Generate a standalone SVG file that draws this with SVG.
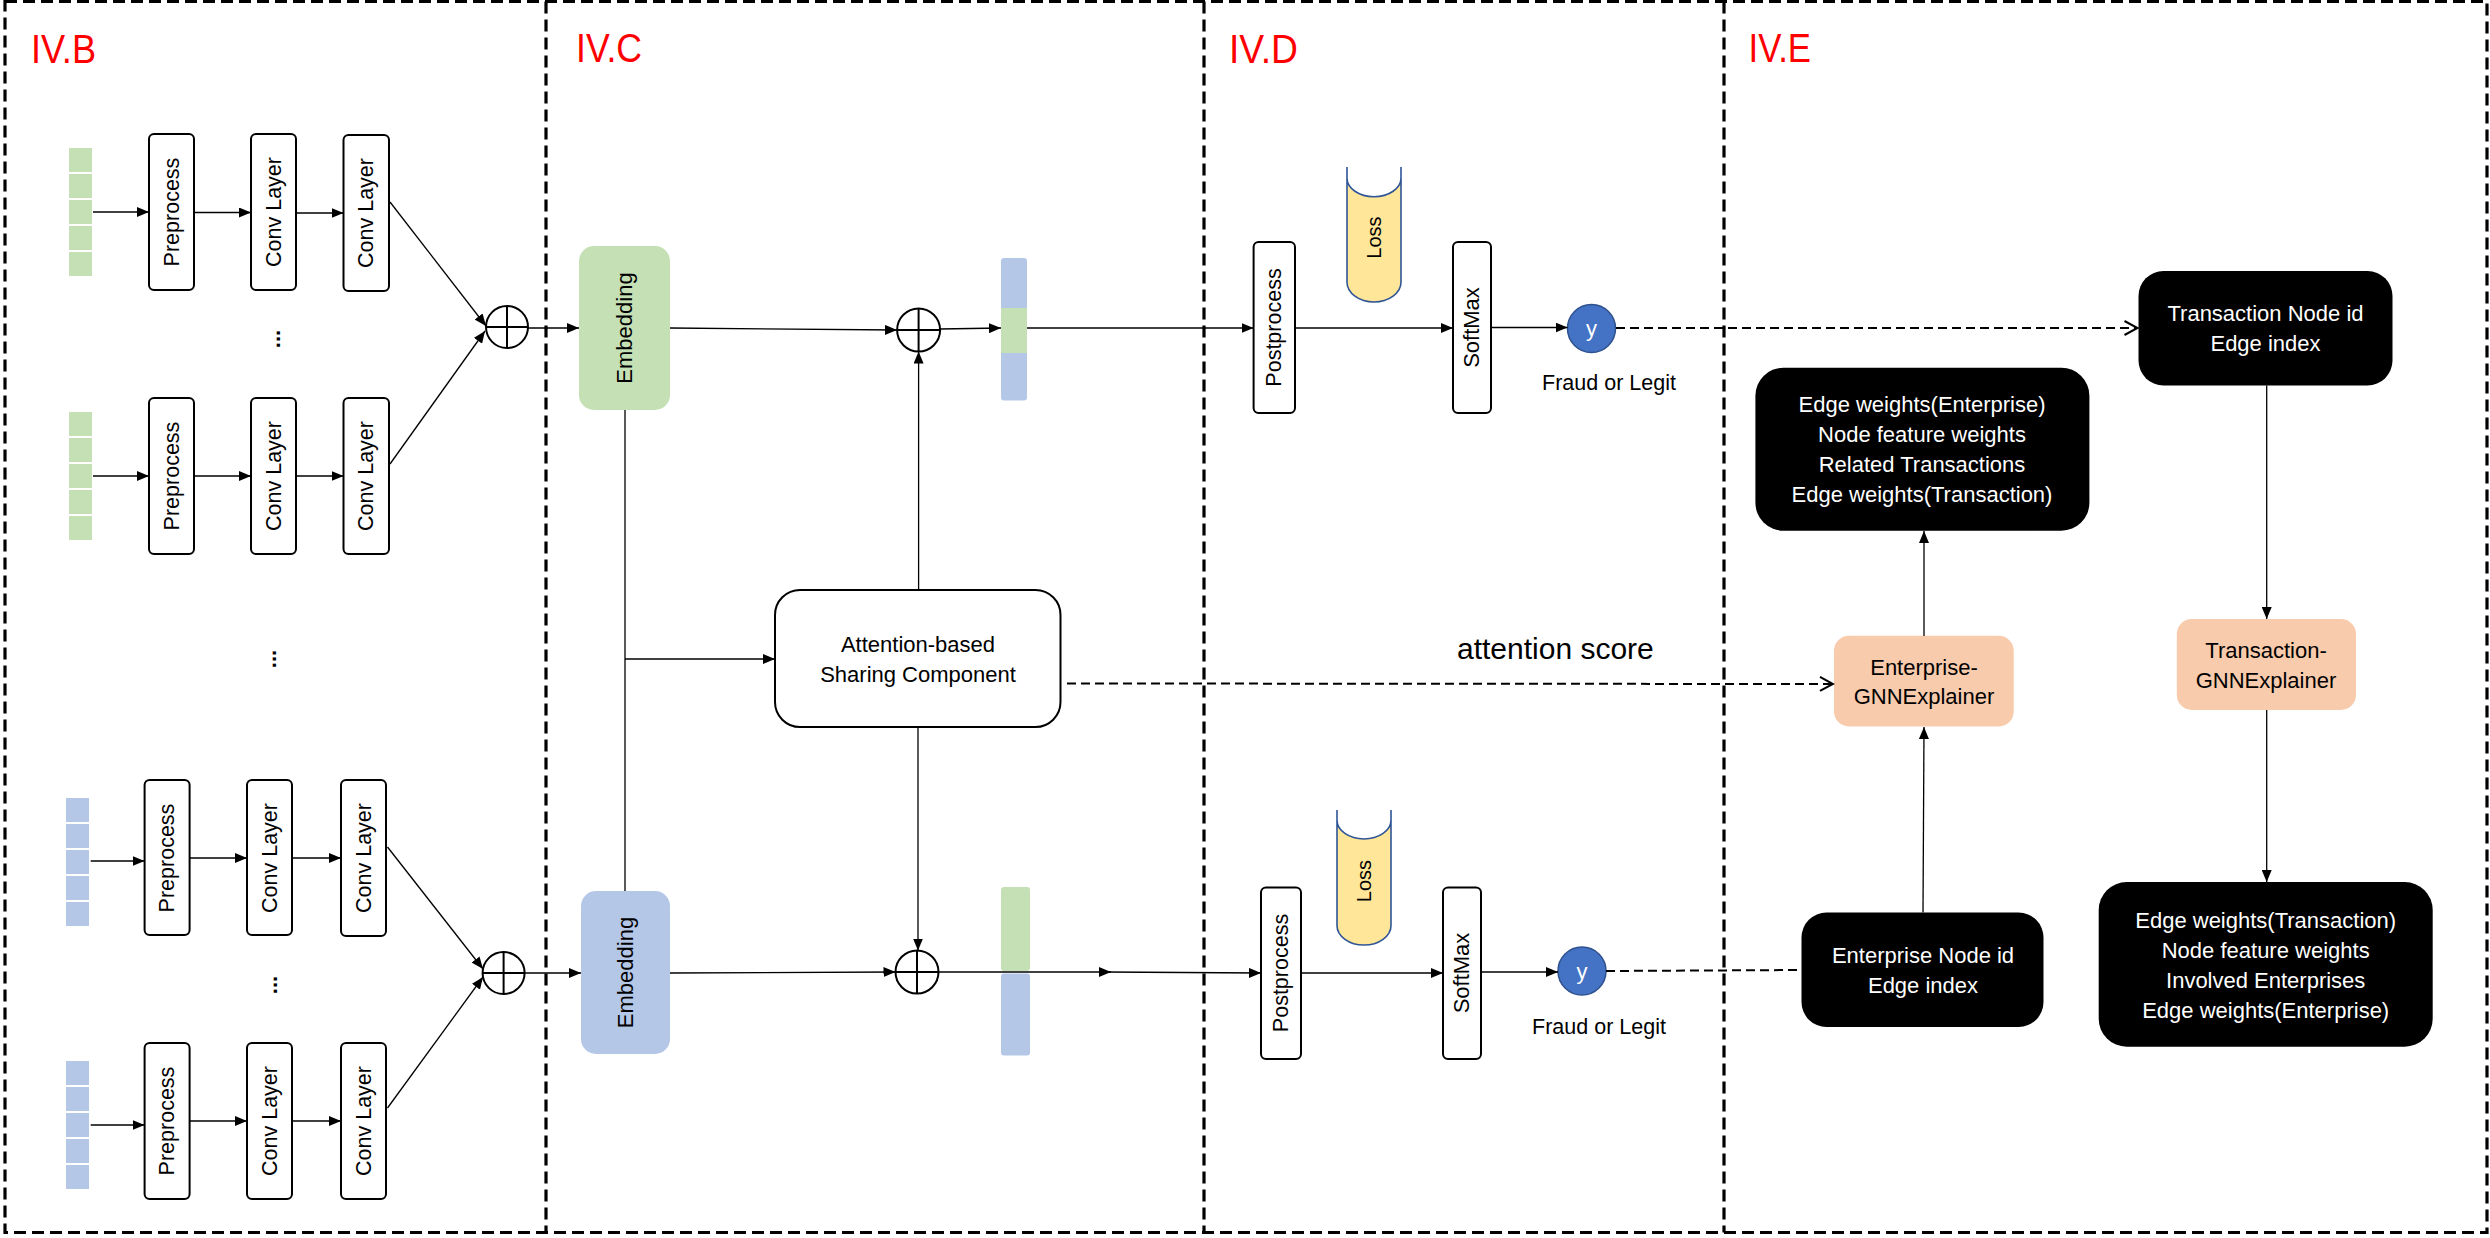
<svg xmlns="http://www.w3.org/2000/svg" width="2490" height="1238" viewBox="0 0 2490 1238">
<style>
text { font-family: "Liberation Sans", Arial, sans-serif; fill: #000; }
.sec { fill: #FF0000; font-size: 40px; }
.box { fill: #fff; stroke: #000; stroke-width: 2; }
.blk { fill: #000; }
.org { fill: #F8CBAD; }
.grn { fill: #C5E0B4; }
.blu { fill: #B4C7E7; }
.vt { font-size: 21.5px; text-anchor: middle; }
.mt { font-size: 22px; text-anchor: middle; }
.wt { font-size: 22px; text-anchor: middle; fill: #fff; }
.conn { stroke: #000; stroke-width: 1.3; fill: none; }
.dash { stroke: #000; stroke-width: 2; stroke-dasharray: 9 5; fill: none; }
.frame { stroke: #000; stroke-width: 3.2; stroke-dasharray: 12 6; fill: none; }
.plus { fill: #fff; stroke: #000; stroke-width: 2; }
.pl { stroke: #000; stroke-width: 2; }
.ycirc { fill: #4472C4; stroke: #2F528F; stroke-width: 1.5; }
.lossf { fill: #FFE699; }
.losss { fill: none; stroke: #2F5597; stroke-width: 1.6; }
</style>
<defs>
<marker id="arr" viewBox="0 0 12 10" refX="12" refY="5" markerWidth="12" markerHeight="10" orient="auto" markerUnits="userSpaceOnUse"><path d="M0,0 L12,5 L0,10 Z" fill="#000"/></marker>
<marker id="open" viewBox="0 0 16 16" refX="14" refY="8" markerWidth="16" markerHeight="16" orient="auto" markerUnits="userSpaceOnUse"><path d="M1,1 L14,8 L1,15" fill="none" stroke="#000" stroke-width="2"/></marker>
</defs>

<g id="frame">
<rect class="frame" x="5" y="1.5" width="2482" height="1231"/>
<line class="frame" x1="546" y1="1.5" x2="546" y2="1232.5"/>
<line class="frame" x1="1204" y1="1.5" x2="1204" y2="1232.5"/>
<line class="frame" x1="1724" y1="1.5" x2="1724" y2="1232.5"/>
</g>

<g id="section-labels">
<text class="sec" x="31" y="62.5" textLength="65" lengthAdjust="spacingAndGlyphs">IV.B</text>
<text class="sec" x="576" y="62" textLength="66" lengthAdjust="spacingAndGlyphs">IV.C</text>
<text class="sec" x="1229" y="62.5" textLength="69" lengthAdjust="spacingAndGlyphs">IV.D</text>
<text class="sec" x="1748.5" y="62" textLength="62.5" lengthAdjust="spacingAndGlyphs">IV.E</text>
</g>

<!-- IV.B inputs -->
<g id="input1">
<rect class="grn" x="69" y="148" width="23" height="24"/><rect class="grn" x="69" y="174" width="23" height="24"/><rect class="grn" x="69" y="200" width="23" height="24"/><rect class="grn" x="69" y="226" width="23" height="24"/><rect class="grn" x="69" y="252" width="23" height="24"/>
</g>
<g id="input2">
<rect class="grn" x="69" y="412" width="23" height="24"/><rect class="grn" x="69" y="438" width="23" height="24"/><rect class="grn" x="69" y="464" width="23" height="24"/><rect class="grn" x="69" y="490" width="23" height="24"/><rect class="grn" x="69" y="516" width="23" height="24"/>
</g>
<g id="input3">
<rect class="blu" x="66" y="798" width="23" height="24"/><rect class="blu" x="66" y="824" width="23" height="24"/><rect class="blu" x="66" y="850" width="23" height="24"/><rect class="blu" x="66" y="876" width="23" height="24"/><rect class="blu" x="66" y="902" width="23" height="24"/>
</g>
<g id="input4">
<rect class="blu" x="66" y="1061" width="23" height="24"/><rect class="blu" x="66" y="1087" width="23" height="24"/><rect class="blu" x="66" y="1113" width="23" height="24"/><rect class="blu" x="66" y="1139" width="23" height="24"/><rect class="blu" x="66" y="1165" width="23" height="24"/>
</g>

<!-- Row 1 -->
<g id="pre1"><rect class="box" x="149" y="134" width="45" height="156" rx="5"/><text class="vt" transform="translate(171.5,212) rotate(-90)" dy="7">Preprocess</text></g>
<g id="conv1a"><rect class="box" x="251" y="134" width="45" height="156" rx="5"/><text class="vt" transform="translate(273.5,212) rotate(-90)" dy="7">Conv Layer</text></g>
<g id="conv1b"><rect class="box" x="343.5" y="135" width="45.5" height="156" rx="5"/><text class="vt" transform="translate(366,213) rotate(-90)" dy="7">Conv Layer</text></g>
<!-- Row 2 -->
<g id="pre2"><rect class="box" x="149" y="398" width="45" height="156" rx="5"/><text class="vt" transform="translate(171.5,476) rotate(-90)" dy="7">Preprocess</text></g>
<g id="conv2a"><rect class="box" x="251" y="398" width="45" height="156" rx="5"/><text class="vt" transform="translate(273.5,476) rotate(-90)" dy="7">Conv Layer</text></g>
<g id="conv2b"><rect class="box" x="343.5" y="398" width="45.5" height="156" rx="5"/><text class="vt" transform="translate(366,476) rotate(-90)" dy="7">Conv Layer</text></g>
<!-- Row 3 -->
<g id="pre3"><rect class="box" x="144.6" y="780" width="45" height="155" rx="5"/><text class="vt" transform="translate(167,858) rotate(-90)" dy="7">Preprocess</text></g>
<g id="conv3a"><rect class="box" x="247" y="780" width="45" height="155" rx="5"/><text class="vt" transform="translate(269.5,858) rotate(-90)" dy="7">Conv Layer</text></g>
<g id="conv3b"><rect class="box" x="341" y="780" width="45" height="156" rx="5"/><text class="vt" transform="translate(363.5,858) rotate(-90)" dy="7">Conv Layer</text></g>
<!-- Row 4 -->
<g id="pre4"><rect class="box" x="144.6" y="1043" width="45" height="156" rx="5"/><text class="vt" transform="translate(167,1121) rotate(-90)" dy="7">Preprocess</text></g>
<g id="conv4a"><rect class="box" x="247" y="1043" width="45" height="156" rx="5"/><text class="vt" transform="translate(269.5,1121) rotate(-90)" dy="7">Conv Layer</text></g>
<g id="conv4b"><rect class="box" x="341" y="1043" width="45" height="156" rx="5"/><text class="vt" transform="translate(363.5,1121) rotate(-90)" dy="7">Conv Layer</text></g>

<g id="ellipses">
<text class="mt" font-weight="bold" transform="translate(280,339) rotate(-90)">...</text>
<text class="mt" font-weight="bold" transform="translate(276,659) rotate(-90)">...</text>
<text class="mt" font-weight="bold" transform="translate(277,985) rotate(-90)">...</text>
</g>

<g id="sum1"><circle class="plus" cx="507" cy="327" r="21"/><line class="pl" x1="486" y1="327" x2="528" y2="327"/><line class="pl" x1="507" y1="306" x2="507" y2="348"/></g>
<g id="sum2"><circle class="plus" cx="503.6" cy="973" r="21"/><line class="pl" x1="482.6" y1="973" x2="524.6" y2="973"/><line class="pl" x1="503.6" y1="952" x2="503.6" y2="994"/></g>

<!-- IV.C -->
<g id="emb-top"><rect class="grn" x="579" y="246" width="91" height="164" rx="15"/><text class="mt" transform="translate(624.5,328) rotate(-90)" dy="7">Embedding</text></g>
<g id="emb-bot"><rect class="blu" x="581" y="891" width="89" height="163" rx="15"/><text class="mt" transform="translate(625.5,972.5) rotate(-90)" dy="7">Embedding</text></g>
<g id="sum3"><circle class="plus" cx="918.6" cy="330" r="21.5"/><line class="pl" x1="897.1" y1="330" x2="940.1" y2="330"/><line class="pl" x1="918.6" y1="308.5" x2="918.6" y2="351.5"/></g>
<g id="sum4"><circle class="plus" cx="917" cy="972" r="21.5"/><line class="pl" x1="895.5" y1="972" x2="938.5" y2="972"/><line class="pl" x1="917" y1="950.5" x2="917" y2="993.5"/></g>
<g id="attention"><rect class="box" x="775" y="590" width="285.5" height="137" rx="25"/><text class="mt" x="918" y="652">Attention-based</text><text class="mt" x="918" y="682">Sharing Component</text></g>
<g id="bar-top">
<rect class="blu" x="1001" y="258" width="26" height="52" rx="3"/>
<rect class="blu" x="1001" y="351" width="26" height="49.5" rx="3"/>
<rect class="grn" x="1001" y="308" width="26" height="45"/>
</g>
<g id="bar-bot">
<rect class="grn" x="1001" y="887" width="29" height="84" rx="3"/>
<rect class="blu" x="1001" y="973.5" width="29" height="82" rx="3"/>
</g>

<!-- IV.D -->
<g id="post-top"><rect class="box" x="1253.6" y="242" width="41.4" height="171" rx="5"/><text class="vt" transform="translate(1274.3,327.5) rotate(-90)" dy="7">Postprocess</text></g>
<g id="loss-top">
<path class="lossf" d="M1347,178 A27,18.7 0 0 0 1401,178 L1401,282 A27,20 0 0 1 1347,282 Z"/>
<path class="losss" d="M1347,167 L1347,282 A27,20 0 0 0 1401,282 L1401,167 M1347,178 A27,18.7 0 0 0 1401,178"/>
<text font-size="20" text-anchor="middle" transform="translate(1374,237.5) rotate(-90)" dy="7">Loss</text>
</g>
<g id="softmax-top"><rect class="box" x="1453" y="242" width="38" height="171" rx="5"/><text class="mt" transform="translate(1472,327.5) rotate(-90)" dy="7">SoftMax</text></g>
<g id="y-top"><circle class="ycirc" cx="1591.5" cy="328.5" r="24"/><text class="wt" x="1591.5" y="336">y</text><text font-size="21.5" text-anchor="middle" x="1609" y="390">Fraud or Legit</text></g>

<g id="post-bot"><rect class="box" x="1261" y="887.6" width="40" height="171.4" rx="5"/><text class="vt" transform="translate(1281,973) rotate(-90)" dy="7">Postprocess</text></g>
<g id="loss-bot">
<path class="lossf" d="M1337,820 A27,19 0 0 0 1391,820 L1391,925.5 A27,19.5 0 0 1 1337,925.5 Z"/>
<path class="losss" d="M1337,810 L1337,925.5 A27,19.5 0 0 0 1391,925.5 L1391,810 M1337,820 A27,19 0 0 0 1391,820"/>
<text font-size="20" text-anchor="middle" transform="translate(1364,881) rotate(-90)" dy="7">Loss</text>
</g>
<g id="softmax-bot"><rect class="box" x="1443" y="887.6" width="38" height="171.4" rx="5"/><text class="mt" transform="translate(1462,973) rotate(-90)" dy="7">SoftMax</text></g>
<g id="y-bot"><circle class="ycirc" cx="1582" cy="971" r="24"/><text class="wt" x="1582" y="978.5">y</text><text font-size="21.5" text-anchor="middle" x="1599" y="1034">Fraud or Legit</text></g>

<text id="attention-score" font-size="30" x="1457" y="659">attention score</text>

<!-- IV.E -->
<g id="tx-node"><rect class="blk" x="2138.5" y="271" width="254" height="114.5" rx="25"/><text class="wt" x="2265.5" y="321">Transaction Node id</text><text class="wt" x="2265.5" y="351">Edge index</text></g>
<g id="ent-out"><rect class="blk" x="1755.4" y="367.7" width="334" height="163" rx="28"/>
<text class="wt" x="1922" y="412.4">Edge weights(Enterprise)</text>
<text class="wt" x="1922" y="442">Node feature weights</text>
<text class="wt" x="1922" y="471.7">Related Transactions</text>
<text class="wt" x="1922" y="502">Edge weights(Transaction)</text></g>
<g id="ent-expl"><rect class="org" x="1834" y="635.8" width="179.7" height="90.7" rx="15"/><text class="mt" x="1924" y="674.5">Enterprise-</text><text class="mt" x="1924" y="704">GNNExplainer</text></g>
<g id="tx-expl"><rect class="org" x="2176.8" y="619" width="179.2" height="91" rx="15"/><text class="mt" x="2266" y="658">Transaction-</text><text class="mt" x="2266" y="687.5">GNNExplainer</text></g>
<g id="ent-node"><rect class="blk" x="1801.5" y="912.5" width="242" height="114.5" rx="25"/><text class="wt" x="1923" y="963">Enterprise Node id</text><text class="wt" x="1923" y="992.6">Edge index</text></g>
<g id="tx-out"><rect class="blk" x="2098.7" y="882" width="334" height="164.7" rx="28"/>
<text class="wt" x="2265.7" y="927.5">Edge weights(Transaction)</text>
<text class="wt" x="2265.7" y="958">Node feature weights</text>
<text class="wt" x="2265.7" y="987.7">Involved Enterprises</text>
<text class="wt" x="2265.7" y="1018">Edge weights(Enterprise)</text></g>

<g id="connectors">
<!-- IV.B -->
<line class="conn" x1="93" y1="212" x2="149" y2="212" marker-end="url(#arr)"/>
<line class="conn" x1="194" y1="212.5" x2="251" y2="212.5" marker-end="url(#arr)"/>
<line class="conn" x1="296" y1="213" x2="343.5" y2="213" marker-end="url(#arr)"/>
<line class="conn" x1="93" y1="476" x2="149" y2="476" marker-end="url(#arr)"/>
<line class="conn" x1="194" y1="476" x2="251" y2="476" marker-end="url(#arr)"/>
<line class="conn" x1="296" y1="476" x2="343.5" y2="476" marker-end="url(#arr)"/>
<line class="conn" x1="90.7" y1="861" x2="144.6" y2="861" marker-end="url(#arr)"/>
<line class="conn" x1="189.6" y1="858" x2="247" y2="858" marker-end="url(#arr)"/>
<line class="conn" x1="292" y1="858" x2="341" y2="858" marker-end="url(#arr)"/>
<line class="conn" x1="90.7" y1="1125" x2="144.6" y2="1125" marker-end="url(#arr)"/>
<line class="conn" x1="189.6" y1="1121" x2="247" y2="1121" marker-end="url(#arr)"/>
<line class="conn" x1="292" y1="1121" x2="341" y2="1121" marker-end="url(#arr)"/>
<line class="conn" x1="390" y1="202" x2="486" y2="326" marker-end="url(#arr)"/>
<line class="conn" x1="390" y1="464" x2="485" y2="331" marker-end="url(#arr)"/>
<line class="conn" x1="387.5" y1="847" x2="483" y2="969" marker-end="url(#arr)"/>
<line class="conn" x1="387.5" y1="1108" x2="483" y2="977" marker-end="url(#arr)"/>
<line class="conn" x1="528" y1="328" x2="579" y2="328" marker-end="url(#arr)"/>
<line class="conn" x1="524.6" y1="973" x2="581" y2="973" marker-end="url(#arr)"/>
<!-- IV.C -->
<line class="conn" x1="625" y1="410" x2="625" y2="891"/>
<line class="conn" x1="625" y1="659" x2="775" y2="659" marker-end="url(#arr)"/>
<line class="conn" x1="670" y1="328" x2="897" y2="330" marker-end="url(#arr)"/>
<line class="conn" x1="940" y1="329" x2="1001" y2="328" marker-end="url(#arr)"/>
<line class="conn" x1="1027" y1="328" x2="1253.6" y2="328" marker-end="url(#arr)"/>
<line class="conn" x1="918.6" y1="590" x2="918.6" y2="351.5" marker-end="url(#arr)"/>
<line class="conn" x1="918" y1="727" x2="918" y2="950.5" marker-end="url(#arr)"/>
<line class="conn" x1="670" y1="973" x2="895.5" y2="972" marker-end="url(#arr)"/>
<line class="conn" x1="938.5" y1="972" x2="1111" y2="972" marker-end="url(#arr)"/>
<line class="conn" x1="1105" y1="972" x2="1261" y2="973" marker-end="url(#arr)"/>
<path class="dash" d="M1067,683.5 L1833,684" marker-end="url(#open)"/>
<!-- IV.D -->
<line class="conn" x1="1295" y1="328" x2="1453" y2="328" marker-end="url(#arr)"/>
<line class="conn" x1="1491" y1="327.5" x2="1567.5" y2="327.5" marker-end="url(#arr)"/>
<line class="conn" x1="1301" y1="973" x2="1443" y2="973" marker-end="url(#arr)"/>
<line class="conn" x1="1481" y1="972" x2="1558" y2="972" marker-end="url(#arr)"/>
<path class="dash" d="M1616,328 L2137.5,328" marker-end="url(#open)"/>
<path class="dash" d="M1606,971 L1801,970"/>
<!-- IV.E -->
<line class="conn" x1="1924" y1="636" x2="1924" y2="531" marker-end="url(#arr)"/>
<line class="conn" x1="1923" y1="912.5" x2="1924" y2="727" marker-end="url(#arr)"/>
<line class="conn" x1="2266.7" y1="385.5" x2="2266.7" y2="619" marker-end="url(#arr)"/>
<line class="conn" x1="2266.7" y1="710" x2="2266.7" y2="882" marker-end="url(#arr)"/>
</g>
</svg>
